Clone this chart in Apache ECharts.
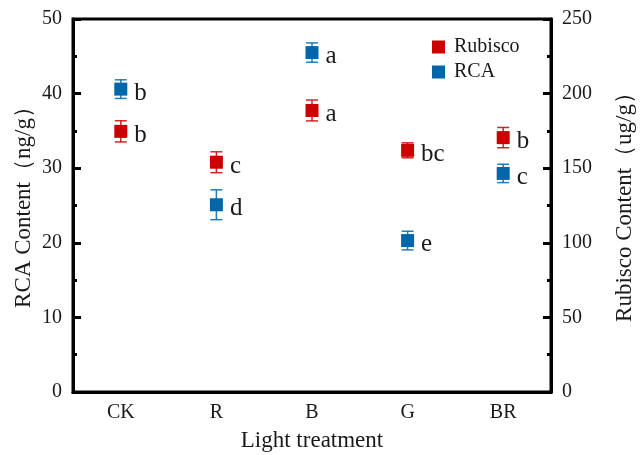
<!DOCTYPE html>
<html>
<head>
<meta charset="utf-8">
<script src="https://cdn.jsdelivr.net/npm/echarts@6/dist/echarts.min.js"></script>
<style>
html,body{margin:0;padding:0;background:#fff;}
#chart{width:640px;height:455px;}
</style>
</head>
<body>
<div id="chart"></div>
<script>
const categories = ['CK', 'R', 'B', 'G', 'BR'];
const rcaMean = [40.6, 25.1, 45.5, 20.3, 29.3];
const rcaErr = [1.25, 2.0, 1.3, 1.25, 1.23];
const rcaLetters = ['b', 'd', 'a', 'e', 'c'];
const rubiscoMean = [174.7, 154.0, 188.7, 162.0, 170.5];
const rubiscoErr = [7.1, 7.0, 7.0, 5.0, 6.8];
const rubiscoLetters = ['b', 'c', 'a', 'bc', 'b'];
const leftTicks = [0, 10, 20, 30, 40, 50];
const rightTicks = [0, 50, 100, 150, 200, 250];

const RED = '#CC0000';
const BLUE = '#0066AA';
const FONT = 'Liberation Serif';
const TXT = '#1a1a1a';

function errData(mean, err) {
  return mean.map((m, i) => [i, m - err[i], m + err[i]]);
}
function errRender(color) {
  return function (params, api) {
    const x = api.value(0);
    const lo = api.coord([x, api.value(1)]);
    const hi = api.coord([x, api.value(2)]);
    const hw = 6;
    const st = { stroke: color, lineWidth: 1.5, opacity: 0.85 };
    return {
      type: 'group',
      children: [
        { type: 'line', shape: { x1: lo[0], y1: lo[1], x2: hi[0], y2: hi[1] }, style: st },
        { type: 'line', shape: { x1: lo[0] - hw, y1: lo[1], x2: lo[0] + hw, y2: lo[1] }, style: st },
        { type: 'line', shape: { x1: hi[0] - hw, y1: hi[1], x2: hi[0] + hw, y2: hi[1] }, style: st }
      ]
    };
  };
}
function pointData(mean, letters) {
  return mean.map((m, i) => ({ value: [i, m], letter: letters[i] }));
}

const axisCommon = {
  axisLine: { show: true, lineStyle: { color: '#000', width: 3 } },
  axisTick: { show: true, inside: true, length: 8, lineStyle: { color: '#000', width: 3 } },
  minorTick: { show: true, splitNumber: 2, length: 4, lineStyle: { color: '#000', width: 3 } },
  splitLine: { show: false },
  axisLabel: { fontFamily: FONT, fontSize: 20, color: TXT, margin: 11 },
  nameTextStyle: { fontFamily: FONT, fontSize: 23, color: TXT, padding: [0, 0, 0, 8] },
  nameLocation: 'middle',
  nameRotate: 90,
  nameMoveOverlap: false
};

const letterLabel = {
  show: true, position: 'right', distance: 7, offset: [0, 4],
  fontFamily: FONT, fontSize: 25, color: TXT,
  formatter: p => p.data.letter
};

const chart = echarts.init(document.getElementById('chart'));
chart.setOption({
  animation: false,
  grid: { left: 73, right: 89, top: 19, bottom: 63, show: true, borderColor: '#000', borderWidth: 3,
          containLabel: false, outerBoundsMode: 'none' },
  legend: {
    orient: 'vertical',
    left: 427,
    top: 32,
    itemWidth: 13,
    itemHeight: 13,
    itemGap: 5,
    icon: 'rect',
    textStyle: { fontFamily: FONT, fontSize: 20, color: TXT, padding: [0, 0, 0, 4] },
    data: ['Rubisco', 'RCA']
  },
  xAxis: {
    type: 'category',
    data: categories,
    boundaryGap: true,
    axisLine: { lineStyle: { color: '#000', width: 3 } },
    axisTick: { inside: true, length: 8, alignWithLabel: true, lineStyle: { color: '#000', width: 3 } },
    axisLabel: { fontFamily: FONT, fontSize: 20, color: TXT, margin: 11 },
    name: 'Light treatment',
    nameLocation: 'middle',
    nameGap: 37,
    nameMoveOverlap: false,
    nameTextStyle: { fontFamily: FONT, fontSize: 23, color: TXT }
  },
  yAxis: [
    Object.assign({}, axisCommon, {
      type: 'value', position: 'left', min: leftTicks[0], max: leftTicks[leftTicks.length - 1],
      interval: leftTicks[1] - leftTicks[0],
      name: 'RCA Content（ng/g）', nameGap: 38
    }),
    Object.assign({}, axisCommon, {
      type: 'value', position: 'right', min: rightTicks[0], max: rightTicks[rightTicks.length - 1],
      interval: rightTicks[1] - rightTicks[0],
      name: 'Rubisco Content（ug/g）', nameGap: 62
    })
  ],
  series: [
    {
      type: 'custom', name: 'RubiscoErr', yAxisIndex: 1, renderItem: errRender(RED),
      data: errData(rubiscoMean, rubiscoErr), z: 2, silent: true
    },
    {
      type: 'custom', name: 'RCAErr', yAxisIndex: 0, renderItem: errRender(BLUE),
      data: errData(rcaMean, rcaErr), z: 2, silent: true
    },
    {
      type: 'scatter', name: 'Rubisco', yAxisIndex: 1, symbol: 'rect', symbolSize: 13,
      itemStyle: { color: RED, opacity: 1 }, z: 3,
      data: pointData(rubiscoMean, rubiscoLetters),
      label: letterLabel
    },
    {
      type: 'scatter', name: 'RCA', yAxisIndex: 0, symbol: 'rect', symbolSize: 13,
      itemStyle: { color: BLUE, opacity: 1 }, z: 3,
      data: pointData(rcaMean, rcaLetters),
      label: letterLabel
    }
  ]
});
</script>
</body>
</html>
